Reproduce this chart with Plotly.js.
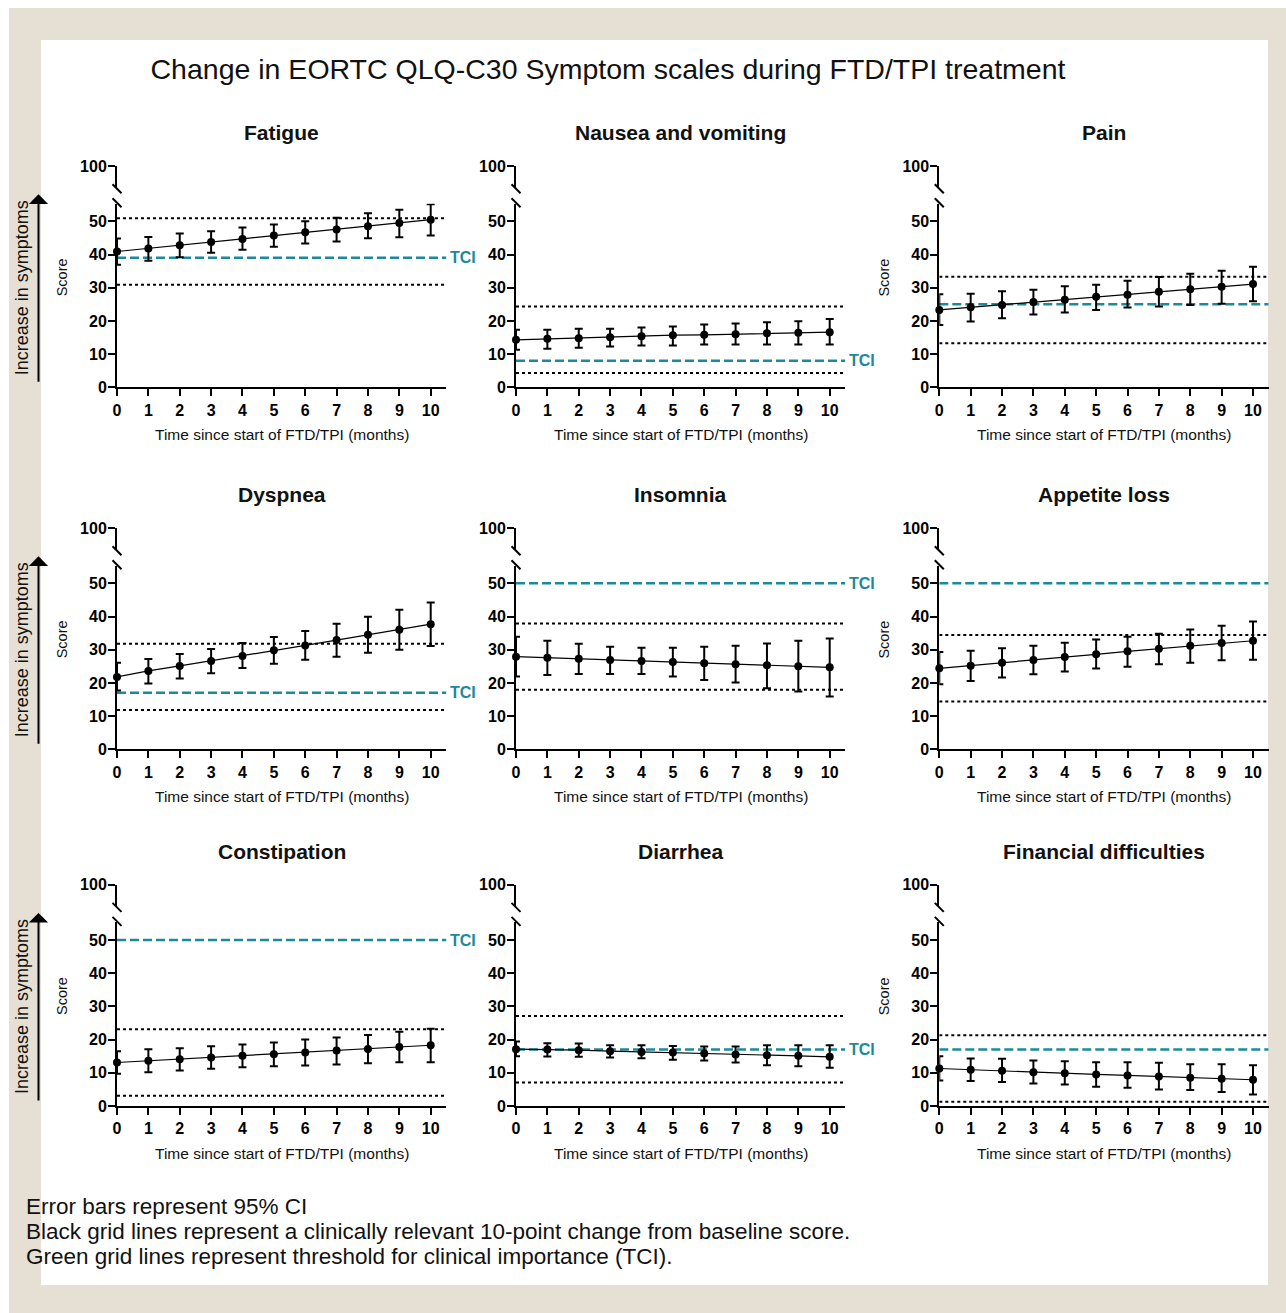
<!DOCTYPE html>
<html>
<head>
<meta charset="utf-8">
<script src="https://cdn.plot.ly/plotly-3.0.1.min.js"></script>
<style>
  html, body { margin: 0; padding: 0; background: #ffffff; }
  #chart { width: 1286px; height: 1313px; }
</style>
</head>
<body>
<div id="chart"></div>
<script>
// ---------------- DATA ----------------
const months = [0, 1, 2, 3, 4, 5, 6, 7, 8, 9, 10];
const monthTicks = ["0", "1", "2", "3", "4", "5", "6", "7", "8", "9", "10"];
const scoreTicks = [0, 10, 20, 30, 40, 50];
const topTick = [100];

const panelTitles = ["Fatigue", "Nausea and vomiting", "Pain",
                     "Dyspnea", "Insomnia", "Appetite loss",
                     "Constipation", "Diarrhea", "Financial difficulties"];

const fatigueMean  = [40.9, 41.8, 42.8, 43.8, 44.7, 45.7, 46.7, 47.5, 48.5, 49.5, 50.5];
const fatigueUpper = [44.8, 45.3, 46.3, 47.0, 48.1, 49.0, 50.0, 51.1, 52.4, 53.5, 55.1];
const fatigueLower = [36.9, 38.1, 39.2, 40.5, 41.4, 42.3, 43.3, 43.9, 44.9, 45.2, 45.7];

const nauseaMean  = [14.3, 14.6, 14.8, 15.1, 15.4, 15.7, 15.8, 16.0, 16.3, 16.4, 16.6];
const nauseaUpper = [17.3, 17.3, 17.6, 17.6, 18.0, 18.3, 18.9, 19.2, 19.6, 19.9, 20.6];
const nauseaLower = [11.3, 11.6, 11.9, 12.3, 12.6, 12.6, 12.9, 12.9, 12.9, 12.9, 12.9];

const painMean  = [23.3, 24.1, 24.8, 25.7, 26.4, 27.3, 27.9, 28.8, 29.5, 30.3, 31.1];
const painUpper = [28.0, 28.2, 28.9, 29.4, 30.4, 30.9, 32.1, 33.2, 34.2, 35.1, 36.3];
const painLower = [18.8, 19.8, 20.8, 21.9, 22.5, 23.3, 24.0, 24.3, 24.8, 25.2, 25.9];

const dyspneaMean  = [21.8, 23.6, 25.1, 26.6, 28.1, 29.8, 31.3, 32.9, 34.5, 36.0, 37.7];
const dyspneaUpper = [26.1, 27.2, 28.7, 30.2, 32.0, 33.8, 35.6, 37.8, 39.9, 42.0, 44.2];
const dyspneaLower = [17.7, 19.8, 21.3, 22.9, 24.5, 25.8, 27.0, 27.9, 29.1, 30.0, 31.1];

const insomniaMean  = [27.9, 27.6, 27.3, 26.9, 26.6, 26.3, 25.9, 25.6, 25.3, 25.0, 24.7];
const insomniaUpper = [33.9, 32.7, 31.8, 30.9, 30.6, 30.6, 30.9, 31.2, 31.9, 32.7, 33.4];
const insomniaLower = [21.9, 22.4, 22.7, 22.7, 22.7, 21.9, 20.9, 20.1, 18.4, 17.4, 15.9];

const appetiteMean  = [24.4, 25.2, 26.1, 26.9, 27.8, 28.6, 29.5, 30.3, 31.2, 32.0, 32.7];
const appetiteUpper = [29.3, 29.7, 30.4, 31.2, 32.1, 33.1, 33.9, 34.8, 36.1, 37.2, 38.5];
const appetiteLower = [19.6, 20.6, 21.6, 22.6, 23.4, 24.3, 24.9, 25.6, 26.1, 26.8, 27.0];

const constipationMean  = [13.1, 13.6, 14.1, 14.6, 15.1, 15.6, 16.1, 16.7, 17.2, 17.8, 18.3];
const constipationUpper = [16.5, 17.1, 17.4, 18.0, 18.5, 19.1, 20.0, 20.6, 21.4, 22.4, 23.3];
const constipationLower = [9.7, 10.2, 10.7, 11.2, 11.7, 12.0, 12.2, 12.5, 12.9, 13.2, 13.2];

const diarrheaMean  = [17.1, 17.0, 16.8, 16.5, 16.3, 16.1, 15.8, 15.5, 15.3, 15.1, 14.8];
const diarrheaUpper = [19.4, 18.9, 18.8, 18.3, 18.3, 18.1, 17.9, 17.9, 18.3, 18.3, 18.3];
const diarrheaLower = [15.0, 14.9, 14.8, 14.6, 14.4, 13.9, 13.7, 13.1, 12.3, 12.0, 11.5];

const financialMean  = [11.3, 10.9, 10.6, 10.2, 9.9, 9.5, 9.2, 8.9, 8.5, 8.2, 7.9];
const financialUpper = [15.0, 14.3, 14.2, 13.7, 13.5, 13.2, 13.2, 13.0, 12.6, 12.6, 12.3];
const financialLower = [7.7, 7.5, 7.2, 6.8, 6.5, 5.8, 5.5, 5.0, 4.8, 4.2, 3.5];

const tciValues = [39, 8, 25, 17, 50, 50, 50, 17, 17];
const tciLabelShown = [true, true, false, true, true, false, true, true, false];
const clinicalChange = 10;

const mainTitle = "Change in EORTC QLQ-C30 Symptom scales during FTD/TPI treatment";
const xTitle = "Time since start of FTD/TPI (months)";
const yTitle = "Score";
const sideLabel = "Increase in symptoms";
const footnoteLines = [
  "Error bars represent 95% CI",
  "Black grid lines represent a clinically relevant 10-point change from baseline score.",
  "Green grid lines represent threshold for clinical importance (TCI)."
];

const means  = [fatigueMean, nauseaMean, painMean, dyspneaMean, insomniaMean, appetiteMean, constipationMean, diarrheaMean, financialMean];
const uppers = [fatigueUpper, nauseaUpper, painUpper, dyspneaUpper, insomniaUpper, appetiteUpper, constipationUpper, diarrheaUpper, financialUpper];
const lowers = [fatigueLower, nauseaLower, painLower, dyspneaLower, insomniaLower, appetiteLower, constipationLower, diarrheaLower, financialLower];

// ---------------- LAYOUT GEOMETRY (pixels) ----------------
const W = 1286, H = 1313;
const colX0 = [117, 516, 939.3];
const pxPerMonth = 31.37;
const xMax = 10.5;
const rowY0 = [387.3, 749.3, 1106];
const pxPerUnit = 3.32;
const lowerTop = 55.3;
const upperRange = [93.5, 100];
const gapPx = 16;

const TEAL = "#1b8a9c";
const BEIGE = "#e6e0d4";
const FONT = "Liberation Sans, Arial, sans-serif";

const px = v => v / W;
const py = v => 1 - v / H;

const data = [];
const shapes = [];
const annotations = [];
const layout = {
  width: W, height: H,
  margin: {l: 0, r: 0, t: 0, b: 0},
  paper_bgcolor: "#ffffff",
  plot_bgcolor: "rgba(0,0,0,0)",
  showlegend: false,
  font: {family: FONT, color: "#000"},
  title: {
    text: mainTitle,
    font: {family: FONT, size: 28.5, color: "#111"},
    x: px(608), xref: "paper", xanchor: "center",
    y: py(69), yref: "paper", yanchor: "middle"
  }
};

// backgrounds
shapes.push({type: "rect", xref: "paper", yref: "paper", x0: px(9), x1: 1, y0: 0, y1: py(8),
             fillcolor: BEIGE, line: {width: 0}, layer: "below"});
shapes.push({type: "rect", xref: "paper", yref: "paper", x0: px(41), x1: px(1268), y0: py(1285), y1: py(40),
             fillcolor: "#ffffff", line: {width: 0}, layer: "below"});

const tickFont = {family: FONT, size: 16, color: "#000", weight: "bold"};

for (let i = 0; i < 9; i++) {
  const r = Math.floor(i / 3), c = i % 3;
  const xid = i + 1, ylow = i + 1, yup = i + 10;
  const xName = "xaxis" + (xid === 1 ? "" : xid);
  const ylName = "yaxis" + (ylow === 1 ? "" : ylow);
  const yuName = "yaxis" + yup;
  const xRef = "x" + (xid === 1 ? "" : xid);
  const ylRef = "y" + (ylow === 1 ? "" : ylow);
  const yuRef = "y" + yup;

  const x0 = colX0[c], x1 = x0 + xMax * pxPerMonth;
  const y0 = rowY0[r];
  const lowTopPx = y0 - lowerTop * pxPerUnit;
  const upBotPx = lowTopPx - gapPx;
  const upTopPx = upBotPx - (upperRange[1] - upperRange[0]) * pxPerUnit;

  layout[xName] = {
    domain: [px(x0), px(x1)], anchor: ylRef, range: [0, xMax],
    tickmode: "array", tickvals: months, ticktext: monthTicks,
    ticks: "outside", ticklen: 7, tickwidth: 2, tickcolor: "#000",
    showline: true, linewidth: 2, linecolor: "#000",
    showgrid: false, zeroline: false, tickfont: tickFont, fixedrange: true
  };
  const yCommon = {
    anchor: xRef, ticks: "outside", ticklen: 7, tickwidth: 2, tickcolor: "#000",
    showline: true, linewidth: 2, linecolor: "#000", ticklabelstandoff: -2,
    showgrid: false, zeroline: false, tickfont: tickFont, fixedrange: true, tickmode: "array"
  };
  layout[ylName] = Object.assign({}, yCommon, {
    domain: [py(y0), py(lowTopPx)], range: [0, lowerTop], tickvals: scoreTicks
  });
  layout[yuName] = Object.assign({}, yCommon, {
    domain: [py(upBotPx), py(upTopPx)], range: upperRange, tickvals: topTick
  });

  const m = means[i];
  data.push({
    type: "scatter", mode: "lines+markers", x: months, y: m,
    xaxis: xRef, yaxis: ylRef, cliponaxis: false,
    line: {color: "#000", width: 1.2},
    marker: {color: "#000", size: 8},
    error_y: {
      type: "data", symmetric: false,
      array: uppers[i].map((u, k) => u - m[k]),
      arrayminus: lowers[i].map((l, k) => m[k] - l),
      color: "#000", thickness: 2, width: 4
    },
    hoverinfo: "x+y"
  });
  data.push({type: "scatter", x: [], y: [], xaxis: xRef, yaxis: yuRef, hoverinfo: "skip"});

  // clinically relevant change lines (baseline ± 10)
  [m[0] + clinicalChange, m[0] - clinicalChange].forEach(v => {
    shapes.push({type: "line", xref: xRef, yref: ylRef, x0: 0, x1: xMax, y0: v, y1: v,
                 line: {color: "#000", width: 2, dash: "dot"}, layer: "below"});
  });
  // TCI line
  shapes.push({type: "line", xref: xRef, yref: ylRef, x0: 0, x1: xMax, y0: tciValues[i], y1: tciValues[i],
               line: {color: TEAL, width: 2.5, dash: "9px,4px"}, layer: "below"});
  if (tciLabelShown[i]) {
    annotations.push({text: "TCI", xref: xRef, yref: ylRef, x: xMax, y: tciValues[i],
                      xanchor: "left", yanchor: "middle", xshift: 2, showarrow: false,
                      font: {family: FONT, size: 16, color: TEAL, weight: "bold"}});
  }

  // axis break marks
  [upBotPx + 1, lowTopPx - 1].forEach(cy => {
    shapes.push({type: "line", xref: "paper", yref: "paper",
                 x0: px(x0 - 4.5), x1: px(x0 + 4.5), y0: py(cy - 4.5), y1: py(cy + 4.5),
                 line: {color: "#000", width: 2}});
  });

  // panel title
  annotations.push({text: "<b>" + panelTitles[i] + "</b>", xref: "paper", yref: "paper",
                    x: px((x0 + x1) / 2), y: py(y0 - 255), xanchor: "center", yanchor: "middle",
                    showarrow: false, font: {family: FONT, size: 21, color: "#111"}});
  // x title
  annotations.push({text: xTitle, xref: "paper", yref: "paper",
                    x: px((x0 + x1) / 2), y: py(y0 + 47), xanchor: "center", yanchor: "middle",
                    showarrow: false, font: {family: FONT, size: 15.5, color: "#111"}});
  // y title
  if (c !== 1) {
    annotations.push({text: yTitle, xref: "paper", yref: "paper", textangle: -90,
                      x: px(x0 - 55), y: py(y0 - 110), xanchor: "center", yanchor: "middle",
                      showarrow: false, font: {family: FONT, size: 14.5, color: "#111"}});
  }
  // side arrow label
  if (c === 0) {
    annotations.push({text: sideLabel, xref: "paper", yref: "paper", textangle: -90,
                      x: px(22), y: py(y0 - 99), xanchor: "center", yanchor: "middle",
                      showarrow: false, font: {family: FONT, size: 18, color: "#111"}});
    annotations.push({text: "", xref: "paper", yref: "paper", x: px(38.5), y: py(y0 - 193),
                      ax: 0, ay: 189, axref: "pixel", ayref: "pixel",
                      showarrow: true, arrowhead: 1, arrowsize: 1.6, arrowwidth: 2,
                      arrowcolor: "#000", standoff: 0, startstandoff: 0});
  }
}

footnoteLines.forEach((line, k) => {
  annotations.push({text: line, xref: "paper", yref: "paper", x: px(24), y: py(1206 + 25 * k),
                    xanchor: "left", yanchor: "middle", align: "left", showarrow: false,
                    font: {family: FONT, size: 22.5, color: "#111"}});
});

layout.shapes = shapes;
layout.annotations = annotations;

Plotly.newPlot("chart", data, layout, {displayModeBar: false, staticPlot: true});
</script>
</body>
</html>
